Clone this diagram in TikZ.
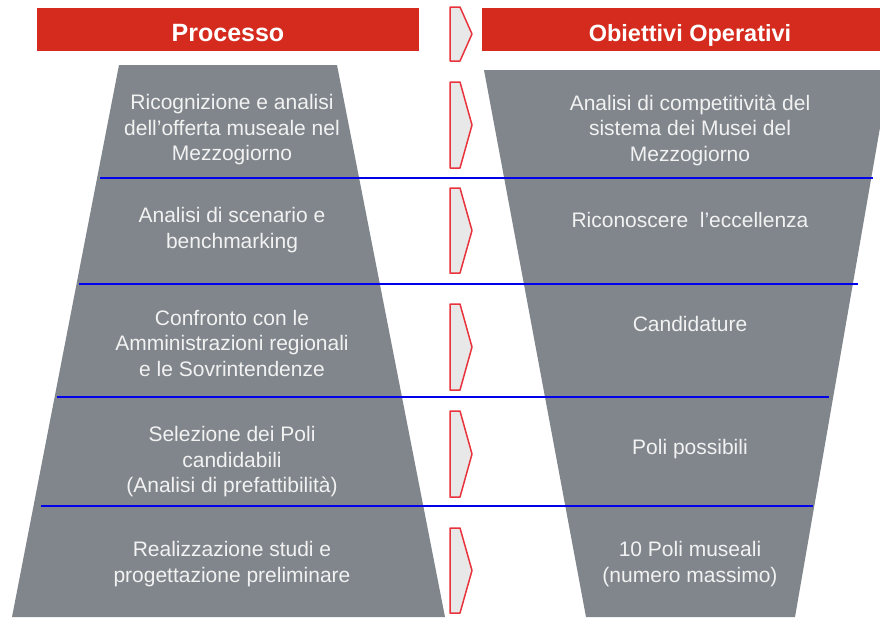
\documentclass[tikz,border=0pt]{standalone}
\usepackage{fontspec}
\setmainfont{Liberation Sans}
\definecolor{cinnabar}{RGB}{213, 43, 30}
\definecolor{slate}{RGB}{128, 134, 139}
\definecolor{ribbon}{RGB}{0, 0, 235}
\definecolor{cloud}{RGB}{232, 232, 232}
\definecolor{crimson}{RGB}{232, 50, 60}
\definecolor{snow}{RGB}{242, 242, 242}

\begin{document}
\begin{tikzpicture}[x=1pt, y=-1pt,
    headtext/.style={text=white, anchor=base, font=\bfseries\fontsize{25}{30}\selectfont},
    steptext/.style={text=snow, align=center, font=\fontsize{21}{25.5}\selectfont},
    arrowbox/.style={draw=crimson, fill=cloud, line width=1.5pt, line join=round},
    divider/.style={ribbon, line width=2pt}]
            \useasboundingbox (0, 0) rectangle (880, 619);
            % headers
            \fill[cinnabar]                                   ( 37,  8) rectangle (419, 51);
            \fill[cinnabar]                                   (482,  8) rectangle (880, 51);
            \node[headtext] (processo)  at (228, 41) {Processo};
            \node[headtext, font=\bfseries\fontsize{23.5}{28}\selectfont] (obiettivi) at (690, 41) {Obiettivi Operativi};
            % funnels
            \fill[slate] (119, 65) -- (337, 65) -- (445, 617) -- ( 12, 617) -- cycle;
            \fill[slate] (484, 70) -- (890, 70) -- (795, 617) -- (586, 617) -- cycle;
            % dividers
            \draw[divider] (100, 178) -- (873, 178);
            \draw[divider] ( 79, 284) -- (858, 284);
            \draw[divider] ( 57, 397) -- (829, 397);
            \draw[divider] ( 41, 506) -- (813, 506);
            % chevrons
            \foreach \t/\b in {7/61, 82/168, 188/273, 304/390, 411/497, 528/613}
                \filldraw[arrowbox] (450, \t) -- (460, \t) -- (472, {(\t+\b)/2}) -- (460, \b) -- (450, \b) -- cycle;
            % process steps
            \node[steptext] (ricognizione) at (232, 130) {Ricognizione e analisi\\dell’offerta museale nel\\Mezzogiorno};
            \node[steptext] (scenario)     at (232, 230) {Analisi di scenario e\\benchmarking};
            \node[steptext] (confronto)    at (232, 343) {Confronto con le\\Amministrazioni regionali\\e le Sovrintendenze};
            \node[steptext] (selezione)    at (232, 462) {Selezione dei Poli\\candidabili\\(Analisi di prefattibilità)};
            \node[steptext] (realizzazione) at (232, 564) {Realizzazione studi e\\progettazione preliminare};
            % objectives
            \node[steptext] (competitivita) at (690, 130) {Analisi di competitività del\\sistema dei Musei del\\Mezzogiorno};
            \node[steptext] (eccellenza)    at (690, 220) {Riconoscere~ l’eccellenza};
            \node[steptext] (candidature)   at (690, 324) {Candidature};
            \node[steptext] (possibili)     at (690, 449) {Poli possibili};
            \node[steptext] (massimo)       at (690, 564) {10 Poli museali\\(numero massimo)};
\end{tikzpicture}
\end{document}
